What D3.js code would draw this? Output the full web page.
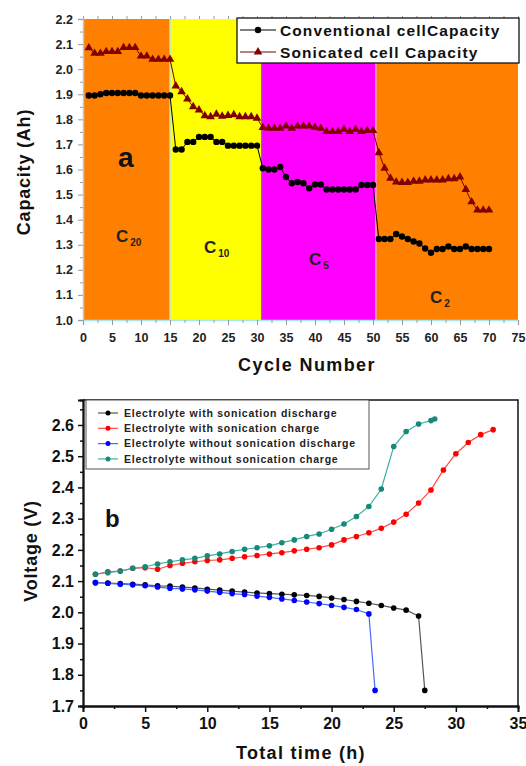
<!DOCTYPE html>
<html>
<head>
  <meta charset="utf-8">
  <script src="https://d3js.org/d3.v7.min.js"></script>
  <style>
    body { margin: 0; background: #fff; }
    svg { display: block; }
    text { font-family: "Liberation Sans", Arial, sans-serif; font-weight: bold; }
  </style>
</head>
<body>
  <svg id="chart" width="526" height="766"></svg>
  <script>
    // ---- panel a : capacity vs cycle number ----
    var cycles = d3.range(1, 71);
    var conventional = [
      1.895, 1.895, 1.900, 1.905, 1.905, 1.905, 1.905, 1.905, 1.905, 1.895, 1.895, 1.895, 1.895, 1.895, 1.895,
      1.680, 1.680, 1.710, 1.710, 1.730, 1.730, 1.730, 1.710, 1.710, 1.695, 1.695, 1.695, 1.695, 1.695, 1.695,
      1.605, 1.600, 1.600, 1.610, 1.570, 1.545, 1.550, 1.545, 1.525, 1.540, 1.540, 1.520, 1.520, 1.520, 1.520,
      1.520, 1.520, 1.538, 1.538, 1.538,
      1.323, 1.323, 1.323, 1.343, 1.333, 1.323, 1.313, 1.305, 1.285, 1.268, 1.283, 1.283, 1.293, 1.283, 1.283,
      1.293, 1.283, 1.283, 1.283, 1.283
    ];
    var sonicated = [
      2.085, 2.063, 2.063, 2.070, 2.070, 2.070, 2.086, 2.086, 2.086, 2.052, 2.052, 2.039, 2.039, 2.039, 2.039,
      1.933, 1.910, 1.881, 1.850, 1.837, 1.814, 1.810, 1.820, 1.812, 1.815, 1.818, 1.810, 1.810, 1.810, 1.804,
      1.767, 1.764, 1.764, 1.764, 1.773, 1.764, 1.773, 1.773, 1.773, 1.768, 1.764, 1.751, 1.751, 1.751, 1.760,
      1.751, 1.760, 1.751, 1.755, 1.755,
      1.667, 1.605, 1.565, 1.550, 1.548, 1.548, 1.553, 1.553, 1.558, 1.558, 1.558, 1.558, 1.563, 1.563, 1.570,
      1.520, 1.471, 1.438, 1.438, 1.438
    ];
    var rateBands = [
      { from: 0, to: 15, color: "#ff8000", label: "C", sub: "20" },
      { from: 15, to: 30.8, color: "#ffff00", label: "C", sub: "10" },
      { from: 30.8, to: 50.5, color: "#ff00ff", label: "C", sub: "5" },
      { from: 50.5, to: 75, color: "#ff8000", label: "C", sub: "2" }
    ];
    var legendA = ["Conventional cellCapacity", "Sonicated cell Capacity"];

    // ---- panel b : voltage vs total time ----
    var timeBlack = [1, 2, 3, 4, 5, 6, 7, 8, 9, 10, 11, 12, 13, 14, 15, 16, 17, 18, 19, 20, 21, 22, 23, 24, 25, 26, 27, 27.5];
    var voltBlack = [2.095, 2.094, 2.092, 2.090, 2.088, 2.085, 2.084, 2.081, 2.078, 2.074, 2.071, 2.068, 2.065, 2.062,
      2.060, 2.058, 2.056, 2.054, 2.051, 2.046, 2.041, 2.035, 2.029, 2.022, 2.014, 2.007, 1.988, 1.750];
    var timeRed = [1, 2, 3, 4, 5, 6, 7, 8, 9, 10, 11, 12, 13, 14, 15, 16, 17, 18, 19, 20, 21, 22, 23, 24, 25, 26, 27, 28, 29, 30, 31, 32, 33];
    var voltRed = [2.122, 2.130, 2.132, 2.141, 2.143, 2.138, 2.150, 2.157, 2.162, 2.166, 2.168, 2.173, 2.178, 2.182,
      2.187, 2.191, 2.197, 2.202, 2.207, 2.216, 2.232, 2.243, 2.255, 2.269, 2.289, 2.314, 2.350, 2.392, 2.456,
      2.508, 2.544, 2.569, 2.585];
    var timeBlue = [1, 2, 3, 4, 5, 6, 7, 8, 9, 10, 11, 12, 13, 14, 15, 16, 17, 18, 19, 20, 21, 22, 23, 23.5];
    var voltBlue = [2.095, 2.093, 2.090, 2.088, 2.085, 2.081, 2.077, 2.075, 2.072, 2.068, 2.064, 2.060, 2.057, 2.052,
      2.048, 2.043, 2.038, 2.033, 2.028, 2.022, 2.016, 2.009, 1.995, 1.750];
    var timeTeal = [1, 2, 3, 4, 5, 6, 7, 8, 9, 10, 11, 12, 13, 14, 15, 16, 17, 18, 19, 20, 21, 22, 23, 24, 25, 26, 27, 28, 28.3];
    var voltTeal = [2.122, 2.127, 2.132, 2.141, 2.146, 2.155, 2.162, 2.168, 2.173, 2.181, 2.187, 2.195, 2.202, 2.207,
      2.213, 2.223, 2.232, 2.243, 2.251, 2.266, 2.283, 2.307, 2.339, 2.395, 2.531, 2.579, 2.603, 2.614, 2.619];
    var legendB = [
      "Electrolyte with sonication discharge",
      "Electrolyte with sonication charge",
      "Electrolyte without sonication discharge",
      "Electrolyte without sonication charge"
    ];

    var svg = d3.select("#chart");

    // =================== panel a ===================
    var xA = d3.scaleLinear().domain([0, 75]).range([83, 518]);
    var yA = d3.scaleLinear().domain([1.0, 2.2]).range([320, 19]);

    var gA = svg.append("g");

    gA.selectAll("rect.band")
      .data(rateBands)
      .enter().append("rect")
      .attr("class", "band")
      .attr("x", d => xA(d.from))
      .attr("y", yA(2.2))
      .attr("width", d => xA(d.to) - xA(d.from))
      .attr("height", yA(1.0) - yA(2.2))
      .attr("fill", d => d.color);

    // thin separators between the bands
    var sepColors = ["#a8e8f0", "#8a5cff", "#ffa0ff"];
    gA.selectAll("line.sep")
      .data(rateBands.slice(1))
      .enter().append("line")
      .attr("x1", d => xA(d.from)).attr("x2", d => xA(d.from))
      .attr("y1", yA(2.2)).attr("y2", yA(1.0))
      .attr("stroke", (d, i) => sepColors[i])
      .attr("stroke-width", 1.3);

    // rate labels C20, C10 ...
    var labelPos = [[116, 242], [204, 253], [309, 265], [430, 303]];
    var rl = gA.selectAll("text.rate")
      .data(rateBands)
      .enter().append("text")
      .attr("class", "rate")
      .attr("x", (d, i) => labelPos[i][0])
      .attr("y", (d, i) => labelPos[i][1])
      .attr("fill", "#222")
      .attr("font-size", 17);
    rl.append("tspan").text(d => d.label);
    rl.append("tspan").attr("dx", 2).attr("dy", 4).attr("font-size", 10).text(d => d.sub);

    // axes
    var axLeftA = d3.axisLeft(yA).tickValues(d3.range(1.0, 2.21, 0.1)).tickSize(5).tickPadding(5).tickFormat(d3.format(".1f"));
    var axLeftAMinor = d3.axisLeft(yA).tickValues(d3.range(1.05, 2.2, 0.1)).tickSize(3).tickFormat("");
    var axBotA = d3.axisBottom(xA).tickValues(d3.range(0, 76, 5)).tickSize(5).tickPadding(8);
    var axBotAMinor = d3.axisBottom(xA).tickValues(d3.range(2.5, 75, 5)).tickSize(3).tickFormat("");
    var axTopA = d3.axisTop(xA).tickValues(d3.range(0, 76, 2.5)).tickSize(3).tickFormat("");

    function styleA(g, lineColor) {
      g.select(".domain").attr("stroke", lineColor).attr("stroke-width", 1.5);
      g.selectAll(".tick line").attr("stroke", "#9a9a9a");
      g.selectAll(".tick text").attr("fill", "#222").attr("font-size", 12.5)
        .attr("font-family", "'Liberation Sans', Arial, sans-serif").attr("font-weight", "bold");
    }
    gA.append("g").attr("transform", "translate(83,0)").call(axLeftA).call(g => styleA(g, "#b8c8d8"));
    gA.append("g").attr("transform", "translate(83,0)").call(axLeftAMinor).call(g => styleA(g, "none"));
    gA.append("g").attr("transform", "translate(0,320)").call(axBotA).call(g => styleA(g, "#a8e8f0"));
    gA.append("g").attr("transform", "translate(0,320)").call(axBotAMinor).call(g => styleA(g, "none"));
    gA.append("g").attr("transform", "translate(0,19)").call(axTopA).call(g => styleA(g, "none"));

    // series
    var lineA = d3.line().x((d, i) => xA(cycles[i])).y(d => yA(d));
    gA.append("path").datum(conventional).attr("d", lineA)
      .attr("fill", "none").attr("stroke", "#000").attr("stroke-width", 1);
    gA.append("path").datum(sonicated).attr("d", lineA)
      .attr("fill", "none").attr("stroke", "#7a0000").attr("stroke-width", 1);

    gA.selectAll("circle.conv")
      .data(conventional)
      .enter().append("circle")
      .attr("class", "conv")
      .attr("cx", (d, i) => xA(cycles[i]))
      .attr("cy", d => yA(d))
      .attr("r", 3.2)
      .attr("fill", "#000");

    var tri = d3.symbol().type(d3.symbolTriangle).size(32);
    gA.selectAll("path.son")
      .data(sonicated)
      .enter().append("path")
      .attr("class", "son")
      .attr("d", tri)
      .attr("transform", (d, i) => `translate(${xA(cycles[i])},${yA(d)})`)
      .attr("fill", "#800000");

    // legend
    var legA = gA.append("g");
    legA.append("rect")
      .attr("x", 237).attr("y", 18).attr("width", 282).attr("height", 45)
      .attr("fill", "#fff").attr("stroke", "#111").attr("stroke-width", 1.3);
    legendA.forEach((name, i) => {
      var ly = 30 + i * 22;
      legA.append("line").attr("x1", 240).attr("x2", 276).attr("y1", ly).attr("y2", ly)
        .attr("stroke", i === 0 ? "#000" : "#7a0000").attr("stroke-width", 1);
      if (i === 0) {
        legA.append("circle").attr("cx", 258).attr("cy", ly).attr("r", 3.2).attr("fill", "#000");
      } else {
        legA.append("path").attr("d", tri).attr("transform", `translate(258,${ly})`).attr("fill", "#800000");
      }
      legA.append("text").attr("x", 280).attr("y", ly + 5.5)
        .attr("font-size", 15.5).attr("letter-spacing", 1.1).attr("fill", "#111").text(name);
    });

    gA.append("text").attr("x", 118).attr("y", 167).attr("font-size", 28).attr("fill", "#111").text("a");

    gA.append("text")
      .attr("transform", "translate(30,172) rotate(-90)")
      .attr("text-anchor", "middle").attr("font-size", 18).attr("letter-spacing", 0.8)
      .attr("fill", "#111").text("Capacity (Ah)");
    gA.append("text")
      .attr("x", 307).attr("y", 371)
      .attr("text-anchor", "middle").attr("font-size", 18).attr("letter-spacing", 1.4)
      .attr("fill", "#111").text("Cycle Number");

    // =================== panel b ===================
    var xB = d3.scaleLinear().domain([0, 35]).range([83, 518]);
    var yB = d3.scaleLinear().domain([1.7, 2.68]).range([706, 400]);
    var gB = svg.append("g");

    // frame top + right
    gB.append("path")
      .attr("d", `M${xB(0)},${yB(2.68)}H${xB(35)}V${yB(1.7)}`)
      .attr("fill", "none").attr("stroke", "#111").attr("stroke-width", 1.5);

    var axLeftB = d3.axisLeft(yB).tickValues(d3.range(1.7, 2.61, 0.1)).tickSize(5).tickPadding(4).tickFormat(d3.format(".1f"));
    var axLeftBMinor = d3.axisLeft(yB).tickValues(d3.range(1.75, 2.68, 0.1)).tickSize(3).tickFormat("");
    var axBotB = d3.axisBottom(xB).tickValues(d3.range(0, 36, 5)).tickSize(6).tickPadding(6);
    var axBotBMinor = d3.axisBottom(xB).tickValues(d3.range(2.5, 35, 5)).tickSize(3).tickFormat("");

    function styleB(g) {
      g.select(".domain").attr("stroke", "#111").attr("stroke-width", 1.8);
      g.selectAll(".tick line").attr("stroke", "#111").attr("stroke-width", 1.5);
      g.selectAll(".tick text").attr("fill", "#111").attr("font-size", 16)
        .attr("font-family", "'Liberation Sans', Arial, sans-serif").attr("font-weight", "bold");
    }
    gB.append("g").attr("transform", "translate(83,0)").call(axLeftB).call(styleB);
    gB.append("g").attr("transform", "translate(83,0)").call(axLeftBMinor).call(styleB);
    gB.append("g").attr("transform", "translate(0,706)").call(axBotB).call(styleB);
    gB.append("g").attr("transform", "translate(0,706)").call(axBotBMinor).call(styleB);

    var seriesB = [
      { t: timeBlack, v: voltBlack, line: "#555", dot: "#000" },
      { t: timeRed, v: voltRed, line: "#ff4a4a", dot: "#ff0000" },
      { t: timeBlue, v: voltBlue, line: "#4a6aff", dot: "#0000ff" },
      { t: timeTeal, v: voltTeal, line: "#3fb0a0", dot: "#15897a" }
    ];
    var lineB = d3.line().x(d => xB(d[0])).y(d => yB(d[1]));
    seriesB.forEach(s => {
      var pts = s.t.map((t, i) => [t, s.v[i]]);
      gB.append("path").datum(pts).attr("d", lineB)
        .attr("fill", "none").attr("stroke", s.line).attr("stroke-width", 1.2);
      gB.selectAll(null).data(pts).enter().append("circle")
        .attr("cx", d => xB(d[0])).attr("cy", d => yB(d[1]))
        .attr("r", 2.8).attr("fill", s.dot);
    });

    // legend b
    var legB = gB.append("g");
    legB.append("rect")
      .attr("x", 86).attr("y", 400).attr("width", 283).attr("height", 69)
      .attr("fill", "#fff").attr("stroke", "#555").attr("stroke-width", 1);
    legendB.forEach((name, i) => {
      var ly = 413 + i * 15.3;
      legB.append("line").attr("x1", 98).attr("x2", 118).attr("y1", ly).attr("y2", ly)
        .attr("stroke", seriesB[i].line).attr("stroke-width", 1.2);
      legB.append("circle").attr("cx", 108).attr("cy", ly).attr("r", 2.5).attr("fill", seriesB[i].dot);
      legB.append("text").attr("x", 124).attr("y", ly + 3.8)
        .attr("font-size", 10.5).attr("letter-spacing", 0.75).attr("fill", "#222").text(name);
    });

    gB.append("text").attr("x", 105).attr("y", 527).attr("font-size", 24).attr("fill", "#111").text("b");

    gB.append("text")
      .attr("transform", "translate(37,551) rotate(-90)")
      .attr("text-anchor", "middle").attr("font-size", 18).attr("letter-spacing", 0.8)
      .attr("fill", "#111").text("Voltage (V)");
    gB.append("text")
      .attr("x", 301).attr("y", 759)
      .attr("text-anchor", "middle").attr("font-size", 18).attr("letter-spacing", 1.3)
      .attr("fill", "#111").text("Total time (h)");
  </script>
</body>
</html>
